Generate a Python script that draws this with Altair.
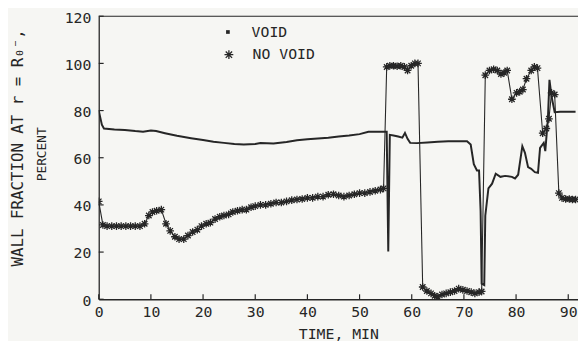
import altair as alt
import pandas as pd

# ---------------- data ----------------
void_t = [0, 0.3, 0.6, 1, 3, 5, 7, 8.5, 10, 11, 12.7, 15, 17.7, 20, 22, 24, 26, 27.8,
          30, 31, 33.5, 36, 38, 40, 42, 44, 46, 48, 50, 51.7, 53, 55.2, 55.5, 55.8,
          56.5, 57.4, 58.2, 58.7, 59.2, 59.7, 61, 63, 65, 67, 69, 70.6, 71.3, 71.9,
          72.5, 72.9, 73.2, 73.4, 73.9, 74.1, 74.7, 75.4, 76.1, 77, 77.9, 79.2, 79.8,
          80.4, 81.2, 81.7, 82.3, 82.9, 83.6, 84.2, 84.6, 85.3, 85.6, 86.1, 86.4,
          86.8, 87.4, 88.5, 91.4]
void_v = [80, 77, 74, 72.4, 72, 71.8, 71.3, 71, 71.5, 71.3, 70.4, 69.3, 68.3, 67.5,
          66.8, 66.3, 65.8, 65.6, 65.8, 66.2, 66, 66.7, 67.4, 67.8, 68.2, 68.5, 69,
          69.4, 70, 71, 71, 71, 20.3, 69.7, 69.4, 69, 68.5, 70.5, 68, 66.3, 66.2, 66.5,
          66.8, 67, 67, 67, 65.6, 57.3, 54.6, 54.6, 37.4, 6.6, 6, 35.4, 47, 49, 53.2,
          51.9, 52.3, 51.9, 51.2, 52.8, 64.9, 62.1, 56, 55.3, 53.9, 53.6, 64.2, 66.3,
          62.8, 76.5, 93, 86, 79.3, 79.5, 79.5]

novoid_t = [0, 0.8, 1.6, 2.5, 3.4, 4.3, 5.2, 6.1, 7, 7.9, 8.8, 9.6, 10.3, 11.1, 12,
            12.9, 13.7, 14.6, 15.4, 16.3, 17.1, 18, 18.9, 19.7, 20.6, 21.4, 22.3,
            23.2, 24, 24.9, 25.7, 26.6, 27.5, 28.3, 29.2, 30, 31, 32, 33, 34, 35, 36,
            37, 38, 39, 40, 41, 42, 43, 44, 45, 46, 47, 48, 49, 50, 51, 52, 53, 54,
            54.6, 55.2, 55.8, 56.5, 57.2, 57.9, 58.6, 59.2, 59.9, 60.6, 61.2, 62.1,
            62.9, 63.7, 64.4, 65, 65.8, 66.6, 67.4, 68.2, 69, 69.8, 70.6, 71.4, 72.1,
            72.9, 73.4, 74.1, 74.9, 75.7, 76.4, 77.1, 77.7, 78.3, 79.2, 80.1, 80.7,
            81.3, 82, 82.9, 83.5, 84.1, 85.1, 85.8, 86.3, 86.8, 87.4, 88.2, 88.8,
            89.5, 90.2, 90.8, 91.4]
novoid_v = [41.5, 31.5, 31, 31, 31, 31, 31, 31, 31, 31, 32, 35.5, 37, 37.5, 38, 32,
            29, 26.5, 25.5, 25.5, 27, 28.5, 29.5, 31, 32, 32.5, 34, 35, 35.5, 36, 37,
            37.5, 38, 38, 39, 39.5, 40, 40, 40.5, 41, 41, 41.5, 42, 42.3, 42.5, 43, 43,
            43.5, 43.5, 44.3, 44.5, 44, 43.5, 44, 44.5, 45, 45, 45.5, 46, 46.5, 47,
            98.5, 99, 99, 98.8, 99, 98.5, 97, 99, 100, 100, 5.2, 3.5, 2.5, 1.5, 1, 2,
            2.5, 3, 3.5, 4.5, 4, 3.5, 3, 2.5, 3, 3.3, 95, 97, 97.5, 97, 95.5, 96, 97,
            84.8, 87.5, 88, 88.9, 93.5, 97, 98.5, 98, 70.4, 72.4, 76.5, 87.5, 86.8, 45,
            43, 42.5, 42.5, 42.3, 42.3]

x_ticks = [0, 10, 20, 30, 40, 50, 60, 70, 80, 90]
y_ticks = [0, 20, 40, 60, 80, 100, 120]
legend_labels = ["VOID", "NO VOID"]
y_title = ["WALL FRACTION AT r = R\u2080\u207b,", "PERCENT"]
x_title = "TIME, MIN"

# ---------------- style ----------------
FONT = "DejaVu Sans Mono"
INK = "#262626"
BG = "#f6f6f3"
STAR = "M-1,0L1,0M0,-1L0,1M-0.72,-0.72L0.72,0.72M-0.72,0.72L0.72,-0.72"
SQUARE = "M-1,-1L1,-1L1,1L-1,1Z"

W, H = 486, 287

void_df = pd.DataFrame({"t": void_t, "v": void_v})
nv_df = pd.DataFrame({"t": novoid_t, "v": novoid_v})
xt_df = pd.DataFrame({"t": x_ticks})
yt_df = pd.DataFrame({"v": y_ticks})

xs = alt.Scale(domain=[0, 91.87], nice=False, zero=False)
ys = alt.Scale(domain=[0, 120], nice=False)

x_axis = alt.Axis(values=x_ticks, ticks=False, grid=False, domainColor=INK,
                  domainWidth=1.3, labelFont=FONT, labelFontSize=15,
                  labelColor=INK, labelPadding=5, labelFlush=False,
                  title=x_title, titleFont=FONT, titleFontSize=15,
                  titleFontWeight="normal", titleColor=INK, titlePadding=8)
y_axis = alt.Axis(values=y_ticks, ticks=False, grid=False, domainColor=INK,
                  domainWidth=1.3, labelFont=FONT, labelFontSize=15,
                  labelColor=INK, labelPadding=8, labelFlush=False,
                  labelOffset=1, title=None)

X = alt.X("t:Q", scale=xs, axis=x_axis)
Y = alt.Y("v:Q", scale=ys, axis=y_axis)

void_line = alt.Chart(void_df).mark_line(color=INK, strokeWidth=2, clip=True).encode(x=X, y=Y)
nv_line = alt.Chart(nv_df).mark_line(color=INK, strokeWidth=1.1, clip=True).encode(x=X, y=Y)
nv_pts = alt.Chart(nv_df).mark_point(shape=STAR, size=60, filled=False, stroke=INK,
                                     strokeWidth=1.3, opacity=1, clip=True).encode(x=X, y=Y)

x_tick_marks = alt.Chart(xt_df).mark_rule(color=INK, strokeWidth=1.2).encode(
    x=X, y=alt.value(H), y2=alt.value(H - 5))
y_tick_marks = alt.Chart(yt_df).mark_rule(color=INK, strokeWidth=1.2).encode(
    y=Y, x=alt.value(0), x2=alt.value(5))

top_frame = alt.Chart(pd.DataFrame({"k": [0]})).mark_rule(color=INK, strokeWidth=1.2).encode(
    x=alt.value(0), x2=alt.value(W), y=alt.value(0))

def label(text, x, y, size, angle=0, align="left"):
    return alt.Chart(pd.DataFrame({"label": [text]})).mark_text(
        font=FONT, fontSize=size, color=INK, angle=angle, align=align,
        baseline="middle").encode(x=alt.value(x), y=alt.value(y), text="label:N")

leg_sq = alt.Chart(pd.DataFrame({"k": [legend_labels[0]]})).mark_point(
    shape=SQUARE, size=14, filled=True, color=INK, opacity=1).encode(
    x=alt.value(131), y=alt.value(16))
leg_star = alt.Chart(pd.DataFrame({"k": [legend_labels[1]]})).mark_point(
    shape=STAR, size=80, filled=False, stroke=INK, strokeWidth=1.3, opacity=1).encode(
    x=alt.value(132), y=alt.value(39))

chart = alt.layer(
    top_frame, x_tick_marks, y_tick_marks, void_line, nv_line, nv_pts,
    leg_sq, leg_star,
    label(legend_labels[0], 155, 16.5, 15),
    label(legend_labels[1], 156, 38.5, 15),
    label(y_title[0], -81.5, 133.5, 16, angle=270, align="center"),
    label(y_title[1], -57, 140, 13, angle=270, align="center"),
).properties(
    width=W, height=H,
    padding={"left": 92, "top": 6, "right": 0, "bottom": 40},
    autosize=alt.AutoSizeParams(type="none"),
    background=BG,
).configure_view(strokeWidth=0)

chart.save("out.html", embed_options={"renderer": "svg", "actions": False})
